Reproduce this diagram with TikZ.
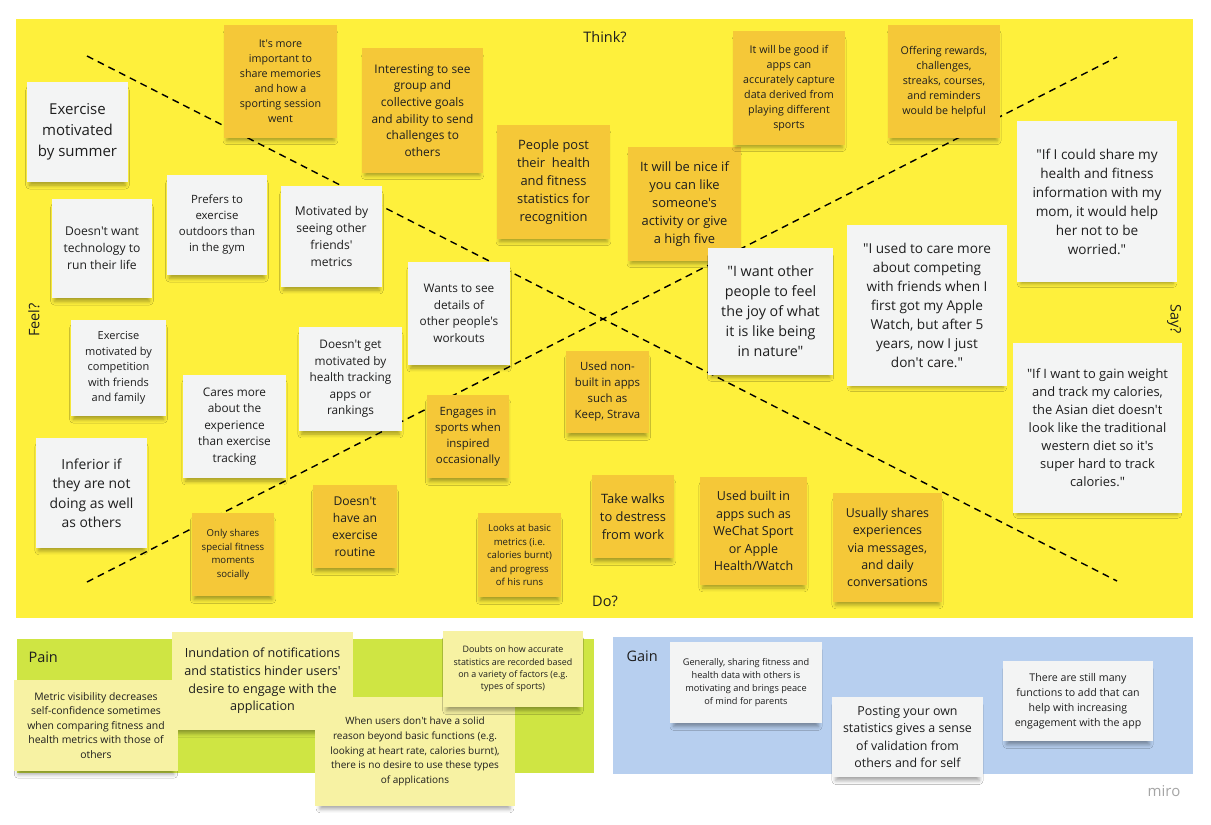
\documentclass[tikz,border=0pt]{standalone}
\usepackage{fontspec}
\setmainfont{Open Sans}[Ligatures=TeXOff]
\usetikzlibrary{positioning, shadows.blur}

\definecolor{board}{HTML}{FEF03C}
\definecolor{orangenote}{HTML}{F5C838}
\definecolor{whitenote}{HTML}{F3F4F4}
\definecolor{palenote}{HTML}{F7F2A3}
\definecolor{painbg}{HTML}{CFE543}
\definecolor{gainbg}{HTML}{B7CFEF}
\definecolor{ink}{HTML}{1E1E1E}
\definecolor{mirogray}{HTML}{A5A5A5}

\newcommand{\fs}[2]{\fontsize{#1}{#2}\selectfont}

\begin{document}
\begin{tikzpicture}[
    x=1pt, y=-1pt,
    % Sticky note styles
    note/.style={align=center, inner sep=0pt, text=ink,
        blur shadow={shadow xshift=0pt, shadow yshift=-6pt, shadow scale=0.95,
            shadow blur radius=4pt, shadow opacity=35}},
    wnote/.style={note, fill=whitenote},
    onote/.style={note, fill=orangenote},
    pnote/.style={note, fill=palenote},
    size/.style 2 args={minimum width=#1, minimum height=#2},
    % Quadrant labels
    axis/.style={text=ink, font=\fs{14.5}{18}},
    % Diagonal style
    diag/.style={line width=1.4pt, dash pattern=on 7pt off 5pt}
]

    \useasboundingbox (0,0) rectangle (1211,825);
    \fill[white] (0,0) rectangle (1211,825);

    % --- BOARDS ---
    \fill[board] (16,19) rectangle (1193,618);
    \fill[painbg] (17,639) rectangle (594,773);
    \fill[gainbg] (613,637) rectangle (1193,774);

    % Diagonals
    \coordinate (tl) at (87,56);
    \coordinate (br) at (1117,581);
    \coordinate (bl) at (87,582);
    \coordinate (tr) at (1117,57);
    \draw[diag] (tl) -- (br);
    \draw[diag] (bl) -- (tr);

    % Axis labels
    \node[axis] (think) at (605,37) {Think?};
    \node[axis] (do) at (605,601) {Do?};
    \node[axis, rotate=90] (feel) at (34,320) {Feel?};
    \node[axis, rotate=-90] (say) at (1174,319) {Say?};

    % --- NOTES: FEEL ---
    \node[wnote, size={101}{100}, font=\fs{15}{21}] (summer) at (77.5,132) {Exercise\\motivated\\by summer};
    \node[wnote, size={100}{99}, font=\fs{12.1}{17}] (tech) at (102,248.5) {Doesn't want\\technology to\\run their life};
    \node[wnote, size={100}{100}, font=\fs{11.4}{16}] (outdoors) at (217,225) {Prefers to\\exercise\\outdoors than\\in the gym};
    \node[wnote, size={101}{101}, font=\fs{12.1}{17}] (friends) at (331.5,236.5) {Motivated by\\seeing other\\friends'\\metrics};
    \node[wnote, size={95}{96}, font=\fs{11}{15.4}] (competition) at (118.5,368) {Exercise\\motivated by\\competition\\with friends\\and family};
    \node[wnote, size={111}{110}, font=\fs{13.9}{19.5}] (inferior) at (91.5,493) {Inferior if\\they are not\\doing as well\\as others};
    \node[wnote, size={103}{103}, font=\fs{11.8}{16.5}] (experience) at (234.5,426.5) {Cares more\\about the\\experience\\than exercise\\tracking};
    \node[wnote, size={103}{104}, font=\fs{11.8}{16.5}] (rankings) at (350.5,379) {Doesn't get\\motivated by\\health tracking\\apps or\\rankings};
    \node[wnote, size={102}{103}, font=\fs{11.8}{16.5}] (details) at (459,313.5) {Wants to see\\details of\\other people's\\workouts};

    % --- NOTES: THINK ---
    \node[onote, size={113}{113}, font=\fs{10.7}{15}] (memories) at (280.5,81.5) {It's more\\important to\\share memories\\and how a\\sporting session\\went};
    \node[onote, size={121}{125}, font=\fs{11.9}{16.7}] (goals) at (422.5,110.5) {Interesting to see\\group and\\collective goals\\and ability to send\\challenges to\\others};
    \node[onote, size={113}{114}, font=\fs{12.9}{18}] (recognition) at (553.5,182) {People post\\their\ \ health\\and fitness\\statistics for\\recognition};
    \node[onote, size={113}{114}, font=\fs{12.9}{18}] (highfive) at (684.5,204) {It will be nice if\\you can like\\someone's\\activity or give\\a high five};
    \node[onote, size={112}{114}, font=\fs{10.7}{15}] (capture) at (789,88) {It will be good if\\apps can\\accurately capture\\data derived from\\playing different\\sports};
    \node[onote, size={112}{113}, font=\fs{10.7}{15}] (rewards) at (944,81.5) {Offering rewards,\\challenges,\\streaks, courses,\\and reminders\\would be helpful};

    % --- NOTES: SAY ---
    \node[wnote, size={125}{127}, font=\fs{14.3}{20}] (nature) at (770.5,311.5) {"I want other\\people to feel\\the joy of what\\it is like being\\in nature"};
    \node[wnote, size={160}{161}, font=\fs{13.6}{19}] (mom) at (1097,201.5) {"If I could share my\\health and fitness\\information with my\\mom, it would help\\her not to be\\worried."};
    \node[wnote, size={160}{161}, font=\fs{13.6}{19}] (apple) at (927,305.5) {"I used to care more\\about competing\\with friends when I\\first got my Apple\\Watch, but after 5\\years, now I just\\don't care."};
    \node[wnote, size={169}{170}, font=\fs{12.9}{18}] (diet) at (1097.5,428) {"If I want to gain weight\\and track my calories,\\the Asian diet doesn't\\look like the traditional\\western diet so it's\\super hard to track\\calories."};

    % --- NOTES: DO ---
    \node[onote, size={82}{83}, font=\fs{9.6}{13.5}] (socially) at (233,554.5) {Only shares\\special fitness\\moments\\socially};
    \node[onote, size={84}{83}, font=\fs{12.1}{17}] (routine) at (355,526.5) {Doesn't\\have an\\exercise\\routine};
    \node[onote, size={83}{82}, font=\fs{11.4}{16}] (strava) at (607.5,392) {Used non-\\built in apps\\such as\\Keep, Strava};
    \node[onote, size={82}{83}, font=\fs{11.4}{16}] (inspired) at (468,436.5) {Engages in\\sports when\\inspired\\occasionally};
    \node[onote, size={83}{84}, font=\fs{9.6}{13.4}] (basics) at (519.5,555) {Looks at basic\\metrics (i.e.\\calories burnt)\\and progress\\of his runs};
    \node[onote, size={82}{83}, font=\fs{12.9}{18}] (walks) at (633,516.5) {Take walks\\to destress\\from work};
    \node[onote, size={107}{108}, font=\fs{12.5}{17.5}] (wechat) at (753.5,531) {Used built in\\apps such as\\WeChat Sport\\or Apple\\Health/Watch};
    \node[onote, size={109}{109}, font=\fs{12.4}{17.4}] (messages) at (887.5,547.5) {Usually shares\\experiences\\via messages,\\and daily\\conversations};

    % --- PAIN ---
    \node[axis, anchor=west] (pain) at (25,657) {Pain};
    \node[pnote, size={181}{98}, font=\fs{12.6}{17.6}] (inundation) at (262.5,681) {Inundation of notifications\\and statistics hinder users'\\desire to engage with the\\application};
    \node[pnote, size={164}{91}, font=\fs{10.4}{14.5}] (visibility) at (96,725.5) {Metric visibility decreases\\self-confidence sometimes\\when comparing fitness and\\health metrics with those of\\others};
    \node[pnote, size={200}{109}, font=\fs{10}{14.7}] (reason) at (415,751.5) {When users don't have a solid\\reason beyond basic functions (e.g.\\looking at heart rate, calories burnt),\\there is no desire to use these types\\of applications};
    \node[pnote, size={140}{76}, font=\fs{8.9}{12.4}] (doubts) at (513,669) {Doubts on how accurate\\statistics are recorded based\\on a variety of factors (e.g.\\types of sports)};

    % --- GAIN ---
    \node[axis, anchor=west] (gain) at (623,656) {Gain};
    \node[wnote, size={152}{81}, font=\fs{9.2}{12.9}] (parents) at (746,682.5) {Generally, sharing fitness and\\health data with others is\\motivating and brings peace\\of mind for parents};
    \node[wnote, size={151}{80}, font=\fs{12.4}{17.3}] (validation) at (907.5,737) {Posting your own\\statistics gives a sense\\of validation from\\others and for self};
    \node[wnote, size={150}{80}, font=\fs{10.6}{14.9}] (functions) at (1078,701) {There are still many\\functions to add that can\\help with increasing\\engagement with the app};

    \node[text=mirogray, font=\fs{15}{18}] (miro) at (1164,791) {miro};

\end{tikzpicture}
\end{document}
